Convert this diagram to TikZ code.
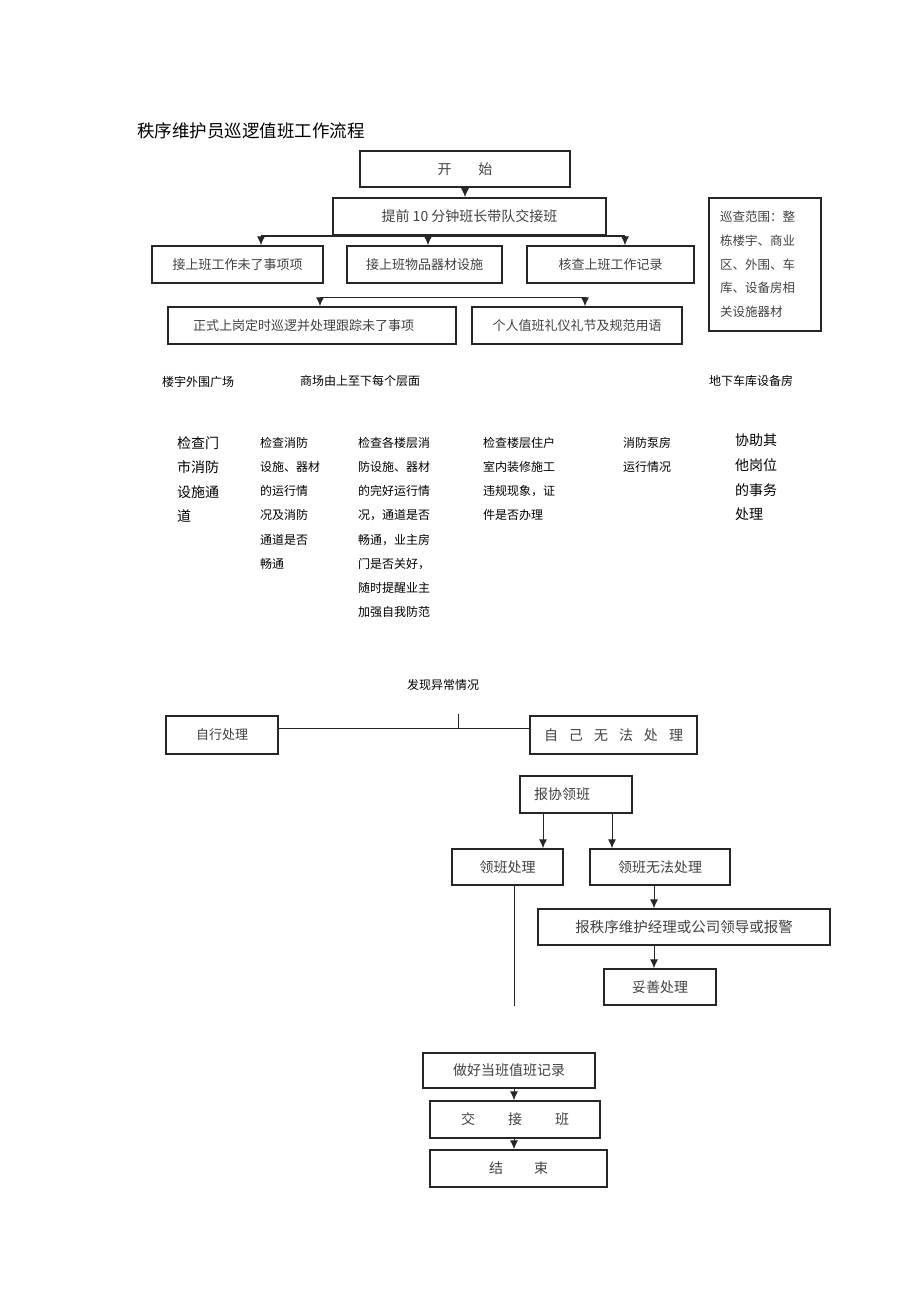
\documentclass[tikz,border=0pt]{standalone}
\usepackage{fontspec}
\setmainfont{Noto Sans CJK SC}
\usetikzlibrary{arrows.meta}

\tikzset{
  box/.style={draw=black!85, line width=1.4pt, inner sep=0pt, text=black!75, font=\fontsize{13}{16}\selectfont},
  boxbold/.style={box, line width=1.8pt},
  arr/.style={-{Latex[length=9pt,width=8pt]}, line width=1pt, draw=black!85},
  plain/.style={line width=1pt, draw=black!85},
  zonetext/.style={anchor=west, inner sep=0pt, font=\fontsize{12}{14}\selectfont},
  coltext/.style={anchor=north west, inner sep=0pt, align=left, font=\fontsize{12}{24.2}\selectfont},
  colbig/.style={coltext, font=\fontsize{14}{24.6}\selectfont},
}

\begin{document}
\begin{tikzpicture}[x=1pt,y=1pt,yscale=-1,xscale=1]
\useasboundingbox (0,0) rectangle (920,1303);

% Title
\node[anchor=west, inner sep=0pt, font=\fontsize{17.5}{20}\selectfont] (title) at (137,131) {秩序维护员巡逻值班工作流程};

%Shape: Rectangle (top part)
\node[boxbold, minimum width=210, minimum height=36, font=\fontsize{14}{16}\selectfont] (start) at (465,169) {开\hspace{27pt}始};
\node[boxbold, minimum width=273, minimum height=37, font=\fontsize{14}{16}\selectfont] (brief) at (469.5,216.5) {提前 10 分钟班长带队交接班};
\node[box, minimum width=171, minimum height=37] (handA) at (237.5,264.5) {接上班工作未了事项项};
\node[box, minimum width=155, minimum height=37] (handB) at (424.5,264.5) {接上班物品器材设施};
\node[box, minimum width=167, minimum height=37] (checkC) at (610.5,264.5) {核查上班工作记录};
\node[box, minimum width=288, minimum height=37, text width=238, inner xsep=25, align=left] (patrol) at (312,325.5) {正式上岗定时巡逻并处理跟踪未了事项};
\node[box, minimum width=210, minimum height=37] (etiquette) at (577,325.5) {个人值班礼仪礼节及规范用语};
\node[box, minimum height=133, text width=90, inner xsep=11, align=left, font=\fontsize{12.5}{23.7}\selectfont] (scope) at (765,264.5) {巡查范围：整\\栋楼宇、商业\\区、外围、车\\库、设备房相\\关设施器材};

%Straight Lines (top part)
\draw[arr] (start.south) -- (start.south |- brief.north);
\coordinate (barL) at (261,236);
\coordinate (barM) at (428,236);
\coordinate (barR) at (625,236);
\draw[line width=2pt, draw=black!85] (barL) -- (barR);
\draw[arr] (barL) -- (barL |- handA.north);
\draw[arr] (barM) -- (barM |- handB.north);
\draw[arr] (barR) -- (barR |- checkC.north);
\coordinate (splitL) at (320,297);
\coordinate (splitR) at (585,297);
\draw[plain] (splitL) -- (splitR);
\draw[arr] (splitL) -- (splitL |- patrol.north);
\draw[arr] (splitR) -- (splitR |- etiquette.north);

% Text Node (areas)
\node[zonetext] (zoneA) at (162,382) {楼宇外围广场};
\node[zonetext] (zoneB) at (300,381) {商场由上至下每个层面};
\node[zonetext] (zoneC) at (709,381) {地下车库设备房};

% Text Node (checks)
\node[colbig] (colA) at (177,436) {检查门\\市消防\\设施通\\道};
\node[coltext] (colB) at (260,437) {检查消防\\设施、器材\\的运行情\\况及消防\\通道是否\\畅通};
\node[coltext] (colC) at (358,437) {检查各楼层消\\防设施、器材\\的完好运行情\\况，通道是否\\畅通，业主房\\门是否关好，\\随时提醒业主\\加强自我防范};
\node[coltext] (colD) at (483,437) {检查楼层住户\\室内装修施工\\违规现象，证\\件是否办理};
\node[coltext] (colE) at (623,437) {消防泵房\\运行情况};
\node[colbig] (colF) at (735,434) {协助其\\他岗位\\的事务\\处理};

%Shape: Rectangle (bottom part)
\node[zonetext] (anomaly) at (407,685) {发现异常情况};
\node[box, minimum width=112, minimum height=38] (selfDo) at (222,735) {自行处理};
\node[box, minimum width=167, minimum height=38, font=\fontsize{14}{16}\selectfont] (selfNo) at (613.5,735) {自\hspace{11pt}己\hspace{11pt}无\hspace{11pt}法\hspace{11pt}处\hspace{11pt}理};
\node[box, minimum width=112, minimum height=37, text width=84, inner xsep=14, align=left, font=\fontsize{14}{16}\selectfont] (report) at (576,794.5) {报协领班};
\node[box, minimum width=111, minimum height=36, font=\fontsize{14}{16}\selectfont] (leadDo) at (507.5,867) {领班处理};
\node[box, minimum width=140, minimum height=36, font=\fontsize{14}{16}\selectfont] (leadNo) at (660,867) {领班无法处理};
\node[box, minimum width=292, minimum height=36, font=\fontsize{14.5}{16}\selectfont] (escalate) at (684,927) {报秩序维护经理或公司领导或报警};
\node[box, minimum width=112, minimum height=36, font=\fontsize{14}{16}\selectfont] (proper) at (660,987) {妥善处理};
\node[box, minimum width=172, minimum height=35, font=\fontsize{14}{16}\selectfont] (record) at (509,1070.5) {做好当班值班记录};
\node[box, minimum width=170, minimum height=37, font=\fontsize{14}{16}\selectfont] (handover) at (515,1119.5) {交\hspace{33pt}接\hspace{33pt}班};
\node[box, minimum width=177, minimum height=37, font=\fontsize{14}{16}\selectfont] (finish) at (518.5,1168.5) {结\hspace{31pt}束};

%Straight Lines (bottom part)
\coordinate (fork) at (458,728);
\draw[plain] (selfDo.east |- fork) -- (selfNo.west |- fork);
\draw[plain] (fork) -- ++(0,-14);
\draw[arr] ([xshift=-33]report.south) -- ([xshift=-33]report.south |- leadDo.north);
\draw[arr] ([xshift=36]report.south) -- ([xshift=36]report.south |- leadNo.north);
\draw[plain] ([xshift=7]leadDo.south) -- ++(0,120);
\draw[arr] ([xshift=-6]leadNo.south) -- ([xshift=-6]leadNo.south |- escalate.north);
\draw[arr] ([xshift=-30]escalate.south) -- ([xshift=-30]escalate.south |- proper.north);
\draw[arr] ([xshift=5]record.south) -- ([xshift=5]record.south |- handover.north);
\draw[arr] ([xshift=-1]handover.south) -- ([xshift=-1]handover.south |- finish.north);
\end{tikzpicture}
\end{document}
